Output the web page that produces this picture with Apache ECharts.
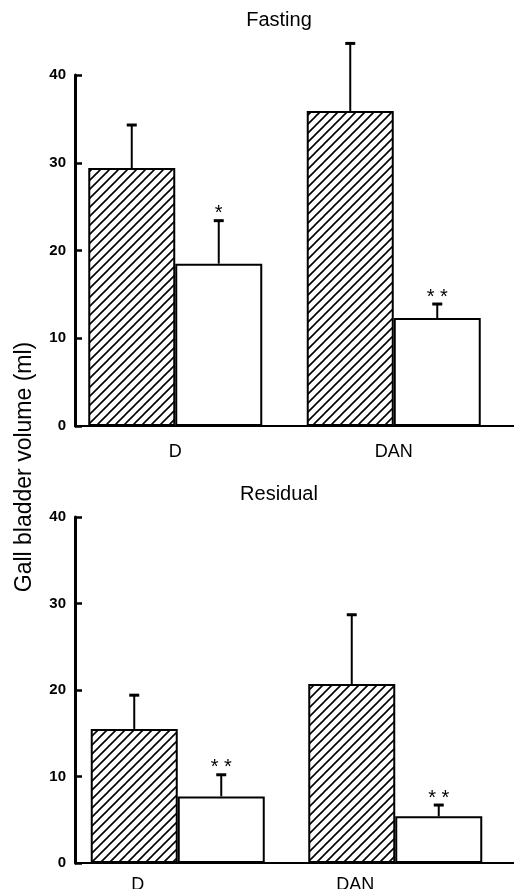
<!DOCTYPE html>
<html>
<head>
<meta charset="utf-8">
<script src="https://cdn.jsdelivr.net/npm/echarts@6/dist/echarts.min.js"></script>
<style>
    html, body { margin: 0; padding: 0; background: #fff; }
    #main { width: 514px; height: 889px; }
</style>
</head>
<body>
<div id="main"></div>
<script>
// data (gall bladder volume, ml)
var categories = ['D', 'DAN'];
var panelTitles = ['Fasting', 'Residual'];

var fastingHatched = [29.4, 35.9];
var fastingHatchedSem = [4.9, 7.7];
var fastingOpen = [18.5, 12.3];
var fastingOpenSem = [4.9, 1.6];
var fastingStars = ['*', '**'];

var residualHatched = [15.5, 20.7];
var residualHatchedSem = [3.9, 8.0];
var residualOpen = [7.7, 5.4];
var residualOpenSem = [2.5, 1.3];
var residualStars = ['**', '**'];

var yMax = 40;
var yStep = 10;

var FONT = '"Liberation Sans", Arial, Helvetica, sans-serif';
var BAR_W = 87;

// diagonal hatch tile
function hatchTile() {
    var s = 9;
    var c = document.createElement('canvas');
    c.width = s;
    c.height = s;
    var g = c.getContext('2d');
    g.fillStyle = '#fff';
    g.fillRect(0, 0, s, s);
    g.strokeStyle = '#000';
    g.lineWidth = 1.6;
    g.beginPath();
    g.moveTo(0, s); g.lineTo(s, 0);
    g.moveTo(-1, 1); g.lineTo(1, -1);
    g.moveTo(s - 1, s + 1); g.lineTo(s + 1, s - 1);
    g.stroke();
    return c;
}
var hatchFill = { image: hatchTile(), repeat: 'repeat' };

var panels = [
    { hatched: fastingHatched, hatchedSem: fastingHatchedSem, open: fastingOpen, openSem: fastingOpenSem, stars: fastingStars,
      top: 75, height: 351, barLeft: 66, barWidth: 437, labelMargin: 17, labelShift: 0, titleTop: 10 },
    { hatched: residualHatched, hatchedSem: residualHatchedSem, open: residualOpen, openSem: residualOpenSem, stars: residualStars,
      top: 517, height: 346, barLeft: 69, barWidth: 435, labelMargin: 13, labelShift: 80, titleTop: 484 }
];

var option = {
    backgroundColor: '#fff',
    animation: false,
    title: [],
    grid: [],
    xAxis: [],
    yAxis: [],
    series: [],
    graphic: [{
        type: 'text',
        x: 25,
        y: 467,
        rotation: Math.PI / 2,
        style: {
            text: 'Gall bladder volume (ml)',
            fill: '#000',
            font: '23px ' + FONT,
            align: 'center',
            verticalAlign: 'middle'
        }
    }]
};

panels.forEach(function (p, i) {
    var axisIdx = 2 * i, barIdx = 2 * i + 1;

    option.title.push({
        text: panelTitles[i],
        left: 279,
        top: p.titleTop,
        textAlign: 'center',
        padding: 0,
        textStyle: { color: '#000', fontSize: 20, fontWeight: 'normal', fontFamily: FONT }
    });

    // grid carrying the visible axes
    option.grid.push({ left: 75, right: 0, top: p.top, height: p.height, outerBoundsMode: 'none' });
    // grid carrying the bars
    option.grid.push({ left: p.barLeft, width: p.barWidth, top: p.top, height: p.height, outerBoundsMode: 'none' });

    option.xAxis.push({
        gridIndex: axisIdx,
        type: 'category',
        data: categories,
        axisLine: { lineStyle: { color: '#000', width: 2 } },
        axisTick: { show: false },
        axisLabel: { show: false }
    });
    option.xAxis.push({
        gridIndex: barIdx,
        type: 'category',
        data: categories,
        axisLine: { show: false },
        axisTick: { show: false },
        axisLabel: {
            margin: p.labelMargin,
            formatter: '{t|{value}}',
            rich: { t: { color: '#000', fontSize: 18, fontFamily: FONT, padding: [0, p.labelShift, 0, 0] } }
        }
    });

    option.yAxis.push({
        gridIndex: axisIdx,
        type: 'value',
        min: 0,
        max: yMax,
        interval: yStep,
        splitLine: { show: false },
        axisLine: { show: true, lineStyle: { color: '#000', width: 3 } },
        axisTick: { show: true, inside: true, length: 7, lineStyle: { color: '#000', width: 2.5 } },
        axisLabel: { color: '#000', fontSize: 15, fontWeight: 'bold', fontFamily: FONT, margin: 9 }
    });
    option.yAxis.push({
        gridIndex: barIdx,
        type: 'value',
        min: 0,
        max: yMax,
        show: false
    });

    option.series.push({
        type: 'bar',
        xAxisIndex: barIdx,
        yAxisIndex: barIdx,
        data: p.hatched,
        barWidth: BAR_W,
        barGap: '0%',
        itemStyle: { color: hatchFill, borderColor: '#000', borderWidth: 2 }
    });
    option.series.push({
        type: 'bar',
        xAxisIndex: barIdx,
        yAxisIndex: barIdx,
        data: p.open,
        barWidth: BAR_W,
        barGap: '0%',
        itemStyle: { color: '#fff', borderColor: '#000', borderWidth: 2 }
    });

    // error bars (upper SEM only) with significance marks
    var errData = [], errStars = [];
    categories.forEach(function (c, k) {
        errData.push([k, p.hatched[k], p.hatched[k] + p.hatchedSem[k], -1]);
        errStars.push('');
        errData.push([k, p.open[k], p.open[k] + p.openSem[k], 1]);
        errStars.push(p.stars[k]);
    });
    option.series.push({
        type: 'custom',
        xAxisIndex: barIdx,
        yAxisIndex: barIdx,
        data: errData,
        z: 5,
        renderItem: function (params, api) {
            var base = api.coord([api.value(0), api.value(1)]);
            var tip = api.coord([api.value(0), api.value(2)]);
            var x = base[0] + api.value(3) * BAR_W / 2;
            var children = [
                { type: 'line', shape: { x1: x, y1: base[1], x2: x, y2: tip[1] },
                  style: { stroke: '#000', lineWidth: 2 } },
                { type: 'line', shape: { x1: x - 5, y1: tip[1], x2: x + 5, y2: tip[1] },
                  style: { stroke: '#000', lineWidth: 3 } }
            ];
            var s = errStars[params.dataIndex];
            if (s) {
                children.push({
                    type: 'text',
                    x: x,
                    y: tip[1] - 7,
                    style: {
                        text: s.split('').join(' '),
                        fill: '#000',
                        font: '20px ' + FONT,
                        align: 'center',
                        verticalAlign: 'middle'
                    }
                });
            }
            return { type: 'group', children: children };
        }
    });
});

var chart = echarts.init(document.getElementById('main'));
chart.setOption(option);
</script>
</body>
</html>
